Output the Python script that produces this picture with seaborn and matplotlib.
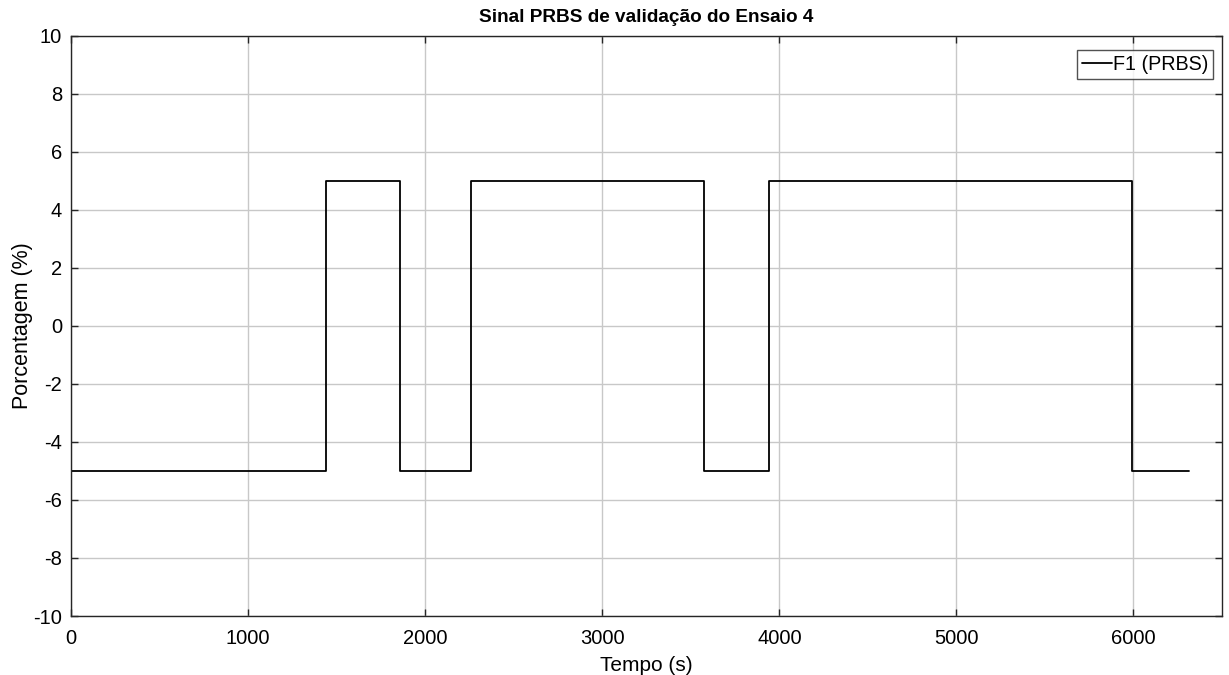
import numpy as np
import pandas as pd
import matplotlib
matplotlib.use("Agg")
import matplotlib.pyplot as plt
import seaborn as sns

# PRBS switching instants (s) and the level held from each instant on (%)
switch_times = [0, 1441, 1857, 2260, 3572, 3939, 5994, 6313]
levels = [-5, 5, -5, 5, -5, 5, -5, -5]

x_ticks = [0, 1000, 2000, 3000, 4000, 5000, 6000]
y_ticks = [-10, -8, -6, -4, -2, 0, 2, 4, 6, 8, 10]

df = pd.DataFrame({"Tempo": switch_times, "Valor": levels})

sns.set_theme(style="whitegrid")
plt.rcParams["font.family"] = ["Liberation Sans", "DejaVu Sans"]
plt.rcParams["axes.unicode_minus"] = False
plt.rcParams["text.color"] = "black"
plt.rcParams["axes.labelcolor"] = "black"
plt.rcParams["xtick.color"] = "black"
plt.rcParams["ytick.color"] = "black"

fig = plt.figure(figsize=(12.29, 6.75), dpi=100)
ax = fig.add_axes([0.0578, 0.0874, 0.9365, 0.86])

sns.lineplot(data=df, x="Tempo", y="Valor", ax=ax, color="black",
             linewidth=1.3, drawstyle="steps-post", label="F1 (PRBS)",
             estimator=None, sort=False)

ax.set_xlim(0, 6500)
ax.set_ylim(-10, 10)
ax.set_xticks(x_ticks)
ax.set_yticks(y_ticks)
ax.tick_params(axis="both", direction="in", length=5, width=1, color="#262626",
               labelsize=14.5, top=True, right=True,
               bottom=True, left=True, labelcolor="black")
ax.tick_params(axis="x", pad=9)
ax.tick_params(axis="y", pad=6.5)
ax.grid(True, color="#c8c8c8", linewidth=1)
for s in ax.spines.values():
    s.set_color("#262626")
    s.set_linewidth(1)

ax.set_title("Sinal PRBS de validação do Ensaio 4", fontsize=13.7,
             fontweight="bold", pad=10, color="black")
ax.set_xlabel("Tempo (s)", fontsize=15, labelpad=6, color="black")
ax.set_ylabel("Porcentagem (%)", fontsize=15.5, labelpad=0, color="black")

leg = ax.legend(loc="upper right", fontsize=14.2, frameon=True, fancybox=False,
                handlelength=1.55, handletextpad=0.05, borderpad=0.25,
                borderaxespad=0.0, bbox_to_anchor=(0.9925, 0.975))
leg.get_frame().set_edgecolor("#262626")
leg.get_frame().set_linewidth(1)
for t in leg.get_texts():
    t.set_color("black")

fig.savefig("out.png", dpi=100, facecolor="white")
